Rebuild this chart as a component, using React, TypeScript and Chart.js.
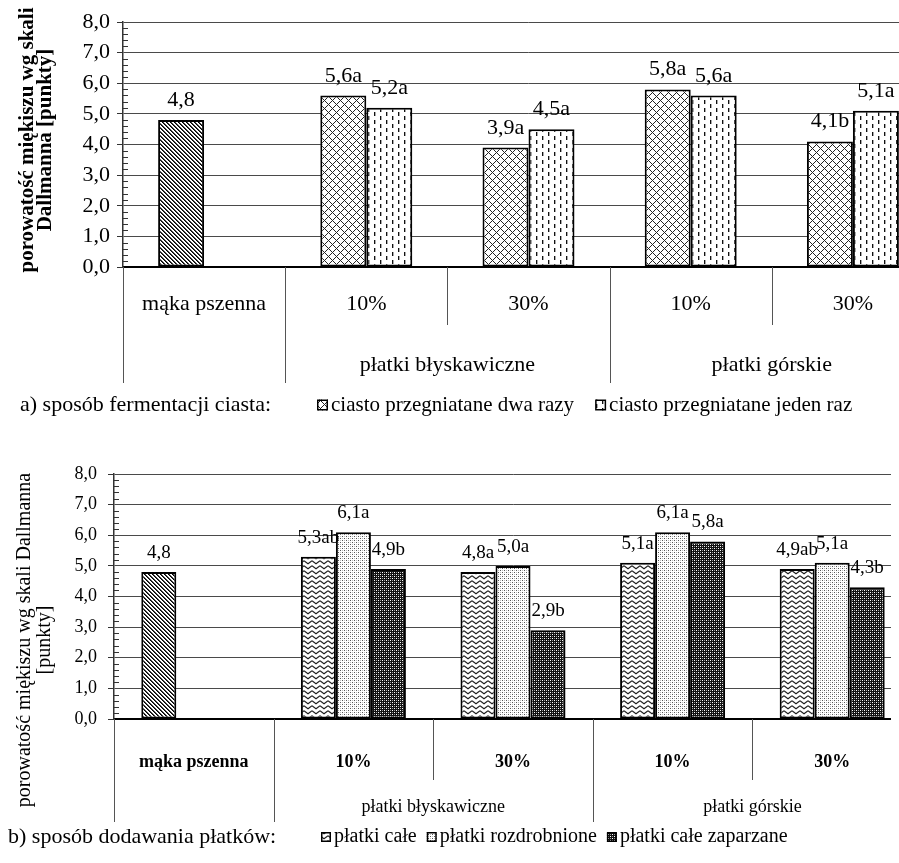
import React, { useEffect, useRef } from 'react';
import { Chart, registerables } from 'chart.js';
Chart.register(...registerables);

const FONT = '"Liberation Serif", "Times New Roman", Times, serif';

// ---------- shared axis values ----------
const yMin = 0;
const yMax = 8;
const yStep = 1;
const yMinorStep = 0.2;

// ---------- chart a) ----------
const categoriesA = ['mąka pszenna', '10%', '30%', '10%', '30%'];
const groupNamesA = ['', 'płatki błyskawiczne', 'płatki górskie'];
const groupSizesA = [1, 2, 2];
const seriesNamesA = ['ciasto przegniatane dwa razy', 'ciasto przegniatane jeden raz'];
const valuesA1 = [4.8, 5.6, 3.9, 5.8, 4.1];
const valuesA2 = [null, 5.2, 4.5, 5.6, 5.1];
const pointLabelsA1 = ['4,8', '5,6a', '3,9a', '5,8a', '4,1b'];
const pointLabelsA2 = ['', '5,2a', '4,5a', '5,6a', '5,1a'];
const legendTitleA = 'a) sposób fermentacji ciasta:';
const yTitleA = ['porowatość miękiszu wg skali', 'Dallmanna [punkty]'];

// ---------- chart b) ----------
const categoriesB = ['mąka pszenna', '10%', '30%', '10%', '30%'];
const groupNamesB = ['', 'płatki błyskawiczne', 'płatki górskie'];
const groupSizesB = [1, 2, 2];
const seriesNamesB = ['płatki całe', 'płatki rozdrobnione', 'płatki całe zaparzane'];
const valuesB1 = [4.8, 5.3, 4.8, 5.1, 4.9];
const valuesB2 = [null, 6.1, 5.0, 6.1, 5.1];
const valuesB3 = [null, 4.9, 2.9, 5.8, 4.3];
const pointLabelsB1 = ['4,8', '5,3ab', '4,8a', '5,1a', '4,9ab'];
const pointLabelsB2 = ['', '6,1a', '5,0a', '6,1a', '5,1a'];
const pointLabelsB3 = ['', '4,9b', '2,9b', '5,8a', '4,3b'];
const legendTitleB = 'b) sposób dodawania płatków:';
const yTitleB = ['porowatość miękiszu wg skali Dallmanna', '[punkty]'];

type Pats = Record<string, CanvasPattern>;

function makePatterns(): Pats {
  const mk = (w: number, h: number, fn: (c: CanvasRenderingContext2D) => void) => {
    const cv = document.createElement('canvas');
    cv.width = w;
    cv.height = h;
    const c = cv.getContext('2d')!;
    fn(c);
    return c.createPattern(cv, 'repeat')!;
  };
  const px = (c: CanvasRenderingContext2D, x: number, y: number, col: string) => {
    c.fillStyle = col;
    c.fillRect(x, y, 1, 1);
  };
  const stripes = mk(4, 4, (c) => {
    c.fillStyle = '#fff';
    c.fillRect(0, 0, 4, 4);
    for (let y = 0; y < 4; y++)
      for (let x = 0; x < 4; x++) {
        const d = (((x - y) % 4) + 4) % 4;
        if (d === 0) px(c, x, y, '#000');
        else if (d === 1) px(c, x, y, '#444');
      }
  });
  const cross = mk(8, 8, (c) => {
    c.fillStyle = '#fff';
    c.fillRect(0, 0, 8, 8);
    for (let y = 0; y < 8; y++)
      for (let x = 0; x < 8; x++) {
        if ((x + y) % 8 === 0 || (((x - y) % 8) + 8) % 8 === 0) px(c, x, y, '#222');
      }
  });
  const dashes = mk(12, 8, (c) => {
    c.fillStyle = '#fff';
    c.fillRect(0, 0, 12, 8);
    for (let y = 0; y < 4; y++) {
      px(c, 2, y, '#111');
      px(c, 3, y, '#aaa');
      px(c, 8, y + 4, '#111');
      px(c, 9, y + 4, '#aaa');
    }
  });
  const zigzag = mk(8, 5, (c) => {
    c.fillStyle = '#fff';
    c.fillRect(0, 0, 8, 5);
    c.strokeStyle = '#222';
    c.lineWidth = 1.1;
    c.beginPath();
    c.moveTo(0, 0.8);
    c.lineTo(4, 3.8);
    c.lineTo(8, 0.8);
    c.stroke();
  });
  const dots = mk(4, 4, (c) => {
    c.fillStyle = '#fff';
    c.fillRect(0, 0, 4, 4);
    px(c, 0, 0, '#555');
    px(c, 2, 2, '#555');
    px(c, 2, 0, '#bbb');
    px(c, 0, 2, '#bbb');
  });
  const checker = mk(4, 4, (c) => {
    c.fillStyle = '#111';
    c.fillRect(0, 0, 4, 4);
    px(c, 0, 0, '#fff');
    px(c, 2, 2, '#fff');
    px(c, 2, 0, '#999');
    px(c, 0, 2, '#999');
  });
  return { stripes, cross, dashes, zigzag, dots, checker };
}

interface DecoStyle {
  groupSizes: number[];
  groupNames: string[];
  pointLabels: string[][];
  valueFont: string;
  valueOffset: number;
  groupFont: string;
  groupY: number;
  longSep: number;
  shortSep: number;
  legendTitle: string;
  legendTitleFont: string;
  legendTitleX: number;
  legendY: number;
  legendFont: string;
  legendBoxX: number;
  legendBox: number;
  legendGap: number;
  seriesNames: string[];
  legendFills: CanvasPattern[];
  yTitle: string[];
  yTitleFont: string;
  yTitleX: number[];
  yTitleFromBottom: number;
}

function decoPlugin(d: DecoStyle) {
  return {
    id: 'deco',
    afterDraw(chart: any) {
      const { ctx, chartArea: ca, scales } = chart;
      const xs = scales.x;
      const ys = scales.y;
      ctx.save();

      // minor ticks inside the y axis
      ctx.strokeStyle = '#333';
      ctx.lineWidth = 1;
      const nMinor = Math.round((yMax - yMin) / yMinorStep);
      const per = Math.round(yStep / yMinorStep);
      for (let k = 0; k <= nMinor; k++) {
        if (k % per === 0) continue;
        const py = Math.round(ys.getPixelForValue(yMin + k * yMinorStep)) + 0.5;
        ctx.beginPath();
        ctx.moveTo(ca.left, py);
        ctx.lineTo(ca.left + 5, py);
        ctx.stroke();
      }

      // category separators below the x axis
      const n = chart.data.labels.length;
      const bounds: number[] = [];
      for (let i = 0; i <= n; i++) {
        if (i === 0) bounds.push(ca.left);
        else if (i === n) bounds.push(ca.right);
        else bounds.push((xs.getPixelForValue(i - 1) + xs.getPixelForValue(i)) / 2);
      }
      const groupEdges = new Set<number>([0]);
      let acc = 0;
      d.groupSizes.forEach((s) => {
        acc += s;
        groupEdges.add(acc);
      });
      ctx.strokeStyle = '#555';
      ctx.lineWidth = 1;
      bounds.forEach((bx, i) => {
        const len = groupEdges.has(i) ? d.longSep : d.shortSep;
        const x = Math.round(bx) + 0.5;
        ctx.beginPath();
        ctx.moveTo(x, ca.bottom);
        ctx.lineTo(x, ca.bottom + len);
        ctx.stroke();
      });

      // group labels
      ctx.fillStyle = '#000';
      ctx.font = d.groupFont;
      ctx.textAlign = 'center';
      ctx.textBaseline = 'middle';
      let start = 0;
      d.groupSizes.forEach((s, g) => {
        const name = d.groupNames[g];
        if (name) ctx.fillText(name, (bounds[start] + bounds[start + s]) / 2, ca.bottom + d.groupY);
        start += s;
      });

      // value labels
      ctx.font = d.valueFont;
      ctx.textAlign = 'center';
      ctx.textBaseline = 'alphabetic';
      chart.data.datasets.forEach((ds: any, di: number) => {
        const meta = chart.getDatasetMeta(di);
        meta.data.forEach((el: any, i: number) => {
          const v = ds.data[i];
          const lab = d.pointLabels[di][i];
          if (v == null || !lab) return;
          ctx.fillText(lab, el.x, el.y - d.valueOffset);
        });
      });

      // legend
      const ly = ca.bottom + d.legendY;
      ctx.textAlign = 'left';
      ctx.textBaseline = 'middle';
      ctx.font = d.legendTitleFont;
      ctx.fillText(d.legendTitle, d.legendTitleX, ly);
      ctx.font = d.legendFont;
      let lx = d.legendBoxX;
      d.seriesNames.forEach((name, i) => {
        const b = d.legendBox;
        ctx.fillStyle = d.legendFills[i];
        ctx.fillRect(lx, ly - b / 2, b, b);
        ctx.strokeStyle = '#000';
        ctx.lineWidth = 1.5;
        ctx.strokeRect(lx + 0.75, ly - b / 2 + 0.75, b - 1.5, b - 1.5);
        ctx.fillStyle = '#000';
        ctx.fillText(name, lx + b + 3, ly);
        lx += b + 3 + ctx.measureText(name).width + d.legendGap;
      });

      // y title
      ctx.font = d.yTitleFont;
      ctx.textAlign = 'center';
      ctx.textBaseline = 'middle';
      d.yTitle.forEach((line, i) => {
        ctx.save();
        ctx.translate(d.yTitleX[i], ca.bottom - d.yTitleFromBottom);
        ctx.rotate(-Math.PI / 2);
        ctx.fillText(line, 0, 0);
        ctx.restore();
      });

      ctx.restore();
    },
  };
}

function yScale(fontSize: number, padding: number, width: number) {
  return {
    min: yMin,
    max: yMax,
    ticks: {
      stepSize: yStep,
      font: { family: FONT, size: fontSize },
      color: '#000',
      padding,
      callback: (v: any) => Number(v).toFixed(1).replace('.', ','),
    },
    grid: { color: '#4a4a4a', lineWidth: 1, tickLength: 6, tickColor: '#333', drawTicks: true },
    border: { color: '#333', width: 1.5 },
    afterFit: (s: any) => {
      s.width = width;
    },
  };
}

function xScale(font: any, padding: number, height: number) {
  return {
    grid: { display: true, drawOnChartArea: false, drawTicks: false },
    border: { color: '#000', width: 2 },
    ticks: { font, color: '#000', padding, autoSkip: false, maxRotation: 0, minRotation: 0 },
    afterFit: (s: any) => {
      s.height = height;
    },
  };
}

function buildA(P: Pats): any {
  return {
    type: 'bar',
    data: {
      labels: categoriesA,
      datasets: [
        {
          label: seriesNamesA[0],
          data: valuesA1,
          backgroundColor: valuesA1.map((_, i) => (i === 0 ? P.stripes : P.cross)),
          borderColor: '#000',
          borderWidth: 2,
          borderSkipped: false,
        },
        {
          label: seriesNamesA[1],
          data: valuesA2,
          backgroundColor: P.dashes,
          borderColor: '#000',
          borderWidth: 2,
          borderSkipped: false,
        },
      ],
    },
    options: {
      responsive: false,
      animation: false,
      events: [],
      layout: { padding: { top: 22, right: 6, left: 0, bottom: 0 } },
      datasets: { bar: { categoryPercentage: 0.567, barPercentage: 1 } },
      plugins: { legend: { display: false }, tooltip: { enabled: false } },
      scales: {
        x: xScale({ family: FONT, size: 22 }, 24, 163),
        y: yScale(22, 7, 123),
      },
    },
    plugins: [
      decoPlugin({
        groupSizes: groupSizesA,
        groupNames: groupNamesA,
        pointLabels: [pointLabelsA1, pointLabelsA2],
        valueFont: `22px ${FONT}`,
        valueOffset: 14,
        groupFont: `22px ${FONT}`,
        groupY: 98,
        longSep: 116,
        shortSep: 58,
        legendTitle: legendTitleA,
        legendTitleFont: `22px ${FONT}`,
        legendTitleX: 20,
        legendY: 138,
        legendFont: `21px ${FONT}`,
        legendBoxX: 317,
        legendBox: 11,
        legendGap: 21,
        seriesNames: seriesNamesA,
        legendFills: [P.cross, P.dashes],
        yTitle: yTitleA,
        yTitleFont: `bold 21px ${FONT}`,
        yTitleX: [28, 46],
        yTitleFromBottom: 127,
      }),
    ],
  };
}

function buildB(P: Pats): any {
  const common = { borderColor: '#000', borderWidth: 2, borderSkipped: false };
  return {
    type: 'bar',
    data: {
      labels: categoriesB,
      datasets: [
        {
          label: seriesNamesB[0],
          data: valuesB1,
          backgroundColor: valuesB1.map((_, i) => (i === 0 ? P.stripes : P.zigzag)),
          ...common,
        },
        { label: seriesNamesB[1], data: valuesB2, backgroundColor: P.dots, ...common },
        { label: seriesNamesB[2], data: valuesB3, backgroundColor: P.checker, ...common },
      ],
    },
    options: {
      responsive: false,
      animation: false,
      events: [],
      layout: { padding: { top: 44, right: 6, left: 0, bottom: 0 } },
      datasets: { bar: { categoryPercentage: 0.658, barPercentage: 1 } },
      plugins: { legend: { display: false }, tooltip: { enabled: false } },
      scales: {
        x: xScale({ family: FONT, size: 18, weight: 'bold' }, 33, 144),
        y: yScale(18, 11, 114),
      },
    },
    plugins: [
      decoPlugin({
        groupSizes: groupSizesB,
        groupNames: groupNamesB,
        pointLabels: [pointLabelsB1, pointLabelsB2, pointLabelsB3],
        valueFont: `19px ${FONT}`,
        valueOffset: 14,
        groupFont: `18px ${FONT}`,
        groupY: 88,
        longSep: 103,
        shortSep: 61,
        legendTitle: legendTitleB,
        legendTitleFont: `22px ${FONT}`,
        legendTitleX: 8,
        legendY: 118,
        legendFont: `20px ${FONT}`,
        legendBoxX: 321,
        legendBox: 10,
        legendGap: 10,
        seriesNames: seriesNamesB,
        legendFills: [P.zigzag, P.dots, P.checker],
        yTitle: yTitleB,
        yTitleFont: `20px ${FONT}`,
        yTitleX: [25, 45],
        yTitleFromBottom: 79,
      }),
    ],
  };
}

export default function App() {
  const refA = useRef<HTMLCanvasElement>(null);
  const refB = useRef<HTMLCanvasElement>(null);
  useEffect(() => {
    const P = makePatterns();
    const cA = new Chart(refA.current!, buildA(P));
    const cB = new Chart(refB.current!, buildB(P));
    return () => {
      cA.destroy();
      cB.destroy();
    };
  }, []);
  return (
    <div
      style={{
        position: 'absolute',
        left: 0,
        top: 0,
        width: 899,
        height: 863,
        overflow: 'hidden',
        background: '#fff',
      }}
    >
      <div style={{ position: 'absolute', left: 0, top: 0, width: 899, height: 430, overflow: 'hidden' }}>
        <canvas ref={refA} width={940} height={430} style={{ display: 'block', width: 940, height: 430 }} />
      </div>
      <div style={{ position: 'absolute', left: 0, top: 430, width: 891, height: 433, overflow: 'hidden' }}>
        <canvas ref={refB} width={918} height={433} style={{ display: 'block', width: 918, height: 433 }} />
      </div>
    </div>
  );
}
